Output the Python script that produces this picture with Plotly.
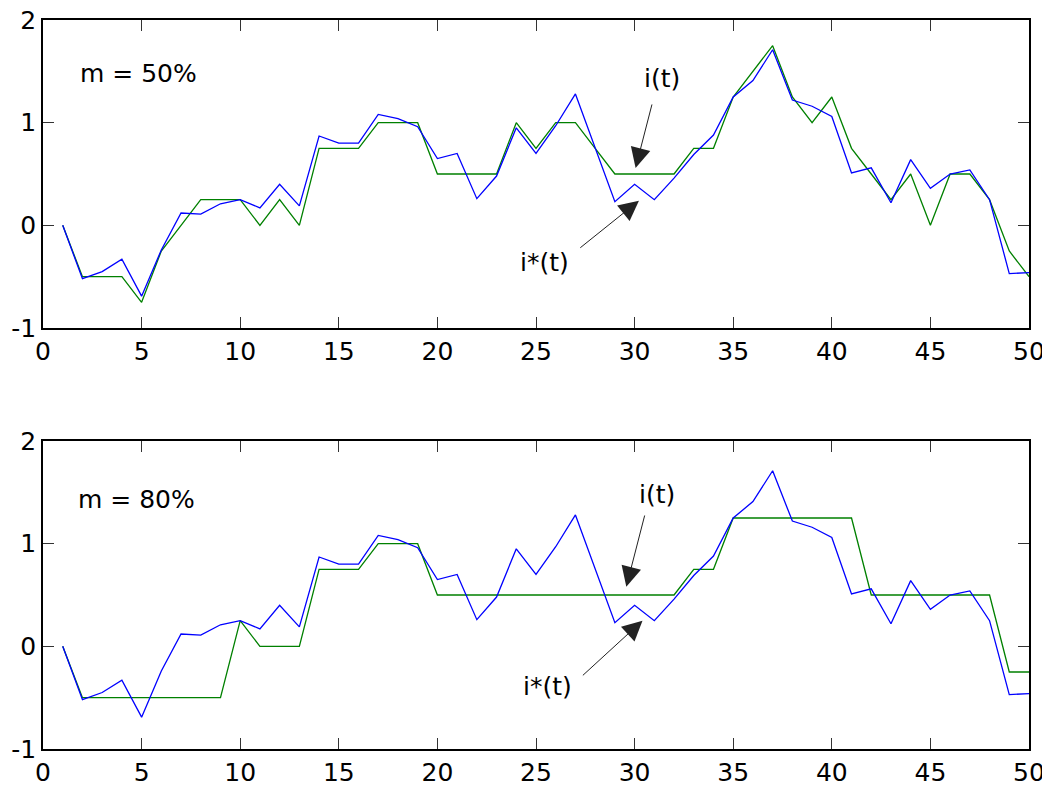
import plotly.graph_objects as go

t = list(range(1, 51))

# blue: i*(t) (same signal in both panels)
blue_series = [0, -0.52, -0.45, -0.33, -0.69, -0.24, 0.12, 0.11, 0.21, 0.25,
               0.17, 0.40, 0.19, 0.87, 0.80, 0.80, 1.08, 1.04, 0.96, 0.65,
               0.70, 0.26, 0.48, 0.95, 0.70, 0.97, 1.28, 0.76, 0.23, 0.40,
               0.25, 0.46, 0.69, 0.88, 1.25, 1.41, 1.71, 1.22, 1.16, 1.06,
               0.51, 0.56, 0.22, 0.64, 0.36, 0.50, 0.54, 0.25, -0.47, -0.46]

# green: i(t), m = 50%
green_50 = [0, -0.5, -0.5, -0.5, -0.75, -0.25, 0, 0.25, 0.25, 0.25,
            0, 0.25, 0, 0.75, 0.75, 0.75, 1.0, 1.0, 1.0, 0.5,
            0.5, 0.5, 0.5, 1.0, 0.75, 1.0, 1.0, 0.75, 0.5, 0.5,
            0.5, 0.5, 0.75, 0.75, 1.25, 1.5, 1.75, 1.25, 1.0, 1.25,
            0.75, 0.5, 0.25, 0.5, 0, 0.5, 0.5, 0.25, -0.25, -0.5]

# green: i(t), m = 80%
green_80 = [0, -0.5, -0.5, -0.5, -0.5, -0.5, -0.5, -0.5, -0.5, 0.25,
            0, 0, 0, 0.75, 0.75, 0.75, 1.0, 1.0, 1.0, 0.5,
            0.5, 0.5, 0.5, 0.5, 0.5, 0.5, 0.5, 0.5, 0.5, 0.5,
            0.5, 0.5, 0.75, 0.75, 1.25, 1.25, 1.25, 1.25, 1.25, 1.25,
            1.25, 0.5, 0.5, 0.5, 0.5, 0.5, 0.5, 0.5, -0.25, -0.25]

x_ticks = [0, 5, 10, 15, 20, 25, 30, 35, 40, 45, 50]
y_ticks = [-1, 0, 1, 2]
y_tick_labels = ["-1", "0", "1", "2"]
panel_labels = ["m = 50%", "m = 80%"]

FONT = "DejaVu Sans, Liberation Sans, Arial, sans-serif"
BLUE = "#0000FF"
GREEN = "#008000"

fig = go.Figure()
fig.add_trace(go.Scatter(x=t, y=green_50, mode="lines", line=dict(color=GREEN, width=1.3),
                         xaxis="x", yaxis="y", showlegend=False))
fig.add_trace(go.Scatter(x=t, y=blue_series, mode="lines", line=dict(color=BLUE, width=1.3),
                         xaxis="x", yaxis="y", showlegend=False))
fig.add_trace(go.Scatter(x=t, y=green_80, mode="lines", line=dict(color=GREEN, width=1.3),
                         xaxis="x2", yaxis="y2", showlegend=False))
fig.add_trace(go.Scatter(x=t, y=blue_series, mode="lines", line=dict(color=BLUE, width=1.3),
                         xaxis="x2", yaxis="y2", showlegend=False))

axis_common = dict(showline=True, linecolor="black", linewidth=1.5, mirror="ticks",
                   ticks="inside", ticklen=11, tickcolor="#333333", tickwidth=1,
                   showgrid=False, zeroline=False, automargin=False,
                   ticklabeloverflow="allow",
                   tickfont=dict(family=FONT, size=25, color="black"))

xa = dict(axis_common, range=[0, 50], tickvals=x_ticks, ticktext=[str(v) for v in x_ticks])
ya = dict(axis_common, range=[-1, 2], tickvals=y_ticks, ticktext=y_tick_labels)

# page body has an 8px margin: figure origin shifted by 8px
fig.update_layout(
    width=1042, height=777,
    margin=dict(l=35, r=21, t=12, b=36),
    paper_bgcolor="white", plot_bgcolor="white",
    xaxis=dict(xa, anchor="y"),
    yaxis=dict(ya, anchor="x", domain=[0.5775, 1.0]),
    xaxis2=dict(xa, anchor="y2"),
    yaxis2=dict(ya, anchor="x2", domain=[0.0, 0.4225]),
)

ann = []
txt_font = dict(family=FONT, size=25, color="black")
# panel labels
ann.append(dict(x=1.75, y=1.477, xref="x", yref="y", text=panel_labels[0], showarrow=False,
                xanchor="left", yanchor="middle", font=txt_font))
ann.append(dict(x=1.66, y=1.435, xref="x2", yref="y2", text=panel_labels[1], showarrow=False,
                xanchor="left", yanchor="middle", font=txt_font))

# (xref, yref, text pos i, tail i, tip i, text pos i*, tail i*, tip i*)
arrow_specs = [
    ("x", "y", (31.37, 1.428), (30.9, 1.192), (30.05, 0.559),
     (25.44, -0.364), (27.17, -0.23), (30.22, 0.24)),
    ("x2", "y2", (31.12, 1.474), (30.53, 1.289), (29.58, 0.581),
     (25.59, -0.396), (27.3, -0.296), (30.4, 0.25)),
]
for xr, yr, ti, tli, tpi, ts, tls, tps in arrow_specs:
    ann.append(dict(x=ti[0], y=ti[1], xref=xr, yref=yr, text="i(t)", showarrow=False,
                    font=txt_font, xanchor="center", yanchor="middle"))
    ann.append(dict(x=ts[0], y=ts[1], xref=xr, yref=yr, text="i*(t)", showarrow=False,
                    font=txt_font, xanchor="center", yanchor="middle"))
    for tail, tip in ((tli, tpi), (tls, tps)):
        ann.append(dict(x=tip[0], y=tip[1], ax=tail[0], ay=tail[1], xref=xr, yref=yr,
                        axref=xr, ayref=yr, text="", showarrow=True, arrowhead=2,
                        arrowsize=4, arrowwidth=1, arrowcolor="#222222", standoff=0))
fig.update_layout(annotations=ann)

fig.write_html("out.html")
